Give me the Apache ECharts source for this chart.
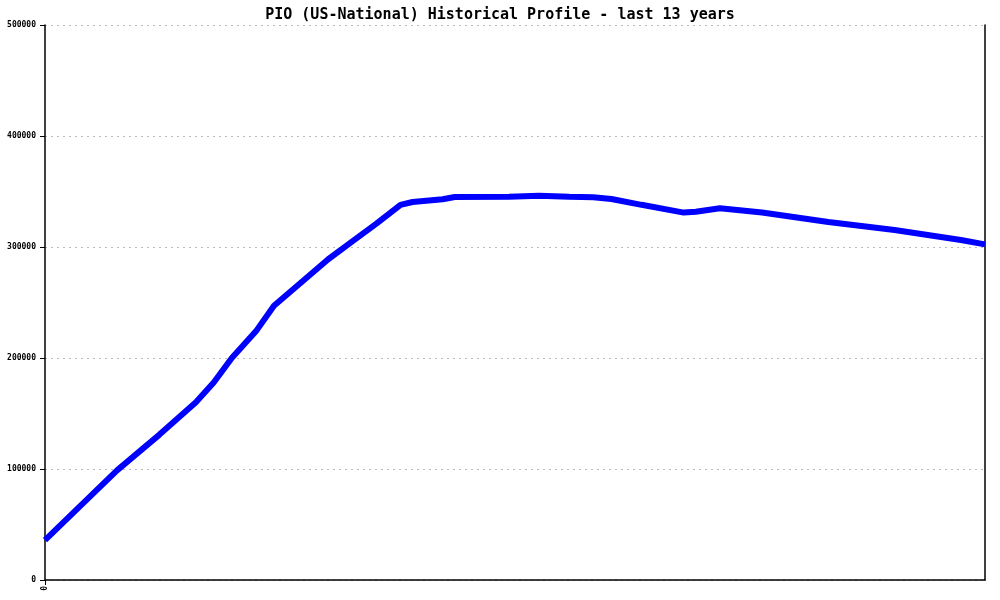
<!DOCTYPE html>
<html>
<head>
<meta charset="utf-8">
<script src="https://cdn.jsdelivr.net/npm/echarts@6/dist/echarts.min.js"></script>
<style>html,body{margin:0;padding:0;background:#fff}#c{width:1000px;height:600px}</style>
</head>
<body>
<div id="c"></div>
<script>
const titleText = 'PIO (US-National) Historical Profile - last 13 years';
const months = [0, 12, 19, 25, 28, 31, 35, 38, 47, 51, 55, 59, 61, 66, 68, 77, 82, 87, 91, 94, 99, 106, 108, 112, 119, 130, 141, 152, 156];
const values = [36000, 99000, 131000, 160000, 178000, 200000, 224000, 247000, 289000, 305000, 321000, 338000, 340500, 343000, 345000, 345300, 346200, 345300, 344800, 343300, 338000, 331000, 331800, 334900, 331000, 322500, 315300, 306300, 302400];
const yTicks = [0, 100000, 200000, 300000, 400000, 500000];

const chart = echarts.init(document.getElementById('c'));
chart.setOption({
  animation: false,
  title: {
    text: titleText, left: 'center', top: 3,
    textStyle: { fontFamily: 'DejaVu Sans Mono', fontSize: 15, fontWeight: 'bold', color: '#000' }
  },
  grid: { left: 45, right: 15, top: 25, bottom: 20, containLabel: false },
  xAxis: {
    type: 'value', min: 0, max: 156, interval: 156,
    axisLine: { show: true, lineStyle: { color: '#000', width: 1.5 } },
    axisTick: { show: true, length: 5, lineStyle: { color: '#000' } },
    splitLine: { show: false },
    axisLabel: {
      rotate: 90, margin: 6, fontFamily: 'DejaVu Sans Mono', fontSize: 8, fontWeight: 'bold', color: '#000',
      formatter: v => (v === 0 ? '0' : ''), showMaxLabel: false
    }
  },
  yAxis: [{
    type: 'value', min: yTicks[0], max: yTicks[yTicks.length - 1], interval: 100000,
    axisLine: { show: true, lineStyle: { color: '#000', width: 1.5 } },
    axisTick: { show: true, length: 5, lineStyle: { color: '#000' } },
    splitLine: { show: true, lineStyle: { color: '#bbb', type: [2, 4], width: 1 } },
    axisLabel: { margin: 9, fontFamily: 'DejaVu Sans Mono', fontSize: 8, fontWeight: 'bold', color: '#000', formatter: v => String(v) }
  }, {
    type: 'value', position: 'right', min: 0, max: 500000,
    axisLine: { show: true, lineStyle: { color: '#000', width: 1.5 } },
    axisTick: { show: false }, axisLabel: { show: false }, splitLine: { show: false }
  }],
  series: [{
    type: 'line',
    data: months.map((m, i) => [m, values[i]]),
    showSymbol: false,
    lineStyle: { color: '#0000ff', width: 6 },
    itemStyle: { color: '#0000ff' }
  }]
});
</script>
</body>
</html>
